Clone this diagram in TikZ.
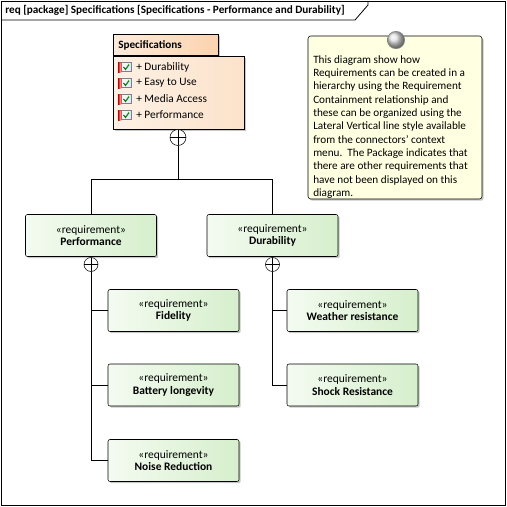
\documentclass[tikz,border=0pt]{standalone}
\usepackage{fontspec}
\setmainfont{Carlito}
\usetikzlibrary{shadows}
\definecolor{reqL}{HTML}{F4FBF1}
\definecolor{reqR}{HTML}{D6EFCC}
\definecolor{pkgL}{HTML}{FEF1E5}
\definecolor{pkgR}{HTML}{FCE2CA}
\definecolor{tabL}{HTML}{FEEBDB}
\definecolor{tabR}{HTML}{FBD3AE}
\definecolor{noteY}{HTML}{FFFFE1}
\begin{document}
\begin{tikzpicture}[x=0.75pt,y=-0.75pt,
  font=\fontsize{8.4}{9}\selectfont,
  shad/.style={drop shadow={shadow xshift=1.3pt, shadow yshift=-1.3pt, opacity=0.22, fill=black}},
  req/.style={draw, rounded corners=1.5pt, minimum width=98.25pt, minimum height=31.5pt,
    left color=reqL, right color=reqR, align=center, inner sep=0pt, shad,
    font=\fontsize{8.6}{9.2}\selectfont},
  cplus/.style={circle, draw, fill=white, minimum size=10.5pt, inner sep=0pt,
    path picture={\draw (path picture bounding box.north) -- (path picture bounding box.south)
      (path picture bounding box.west) -- (path picture bounding box.east);}},
  conn/.style={draw, line width=0.6pt},
  item/.style={anchor=west, inner sep=0pt, font=\fontsize{8.5}{9}\selectfont},
  chk/.pic={
    \fill[left color=red!75!black, right color=red!35] (0,-5) rectangle (2.5,5);
    \draw[gray, left color=white, right color=blue!12] (3,-4.5) rectangle (13,4.5);
    \draw[green!50!black, line width=0.8pt] (5.5,0) -- (7.5,2.5) -- (11,-2.5);
  }]
\useasboundingbox (0,0) rectangle (507,507);
% frame
\draw[line width=0.6pt] (1,1) rectangle (505,505);
\draw[line width=0.6pt] (1,20) -- (355,20) -- (368,5) -- (368,1);
\node[anchor=west, inner sep=0pt, font=\fontsize{8.4}{9}\selectfont\bfseries] (title) at (5,10.5)
  {req [package] Specifications [Specifications - Performance and Durability]};

% package
\node[draw, anchor=north west, minimum width=98.25pt, minimum height=54.75pt, inner sep=0pt,
  left color=pkgL, right color=pkgR, shad] (pkg) at (113,56) {};
\node[draw, anchor=south west, minimum width=78.75pt, minimum height=15.75pt, inner sep=0pt,
  left color=tabL, right color=tabR, shad] (pkgtab) at (pkg.north west) {};
\node[draw, anchor=south west, minimum width=78.75pt, minimum height=15.75pt, inner sep=0pt,
  left color=tabL, right color=tabR] at (pkg.north west) {};
\node[draw, anchor=north west, minimum width=98.25pt, minimum height=54.75pt, inner sep=0pt,
  left color=pkgL, right color=pkgR] at (113,56) {};
\node[anchor=west, inner sep=0pt, font=\fontsize{8.4}{9}\selectfont\bfseries] (pkgname) at (118,45) {Specifications};
\pic at (118,67) {chk};
\pic at (118,83) {chk};
\pic at (118,99) {chk};
\pic at (118,115) {chk};
\node[item] (i1) at (136,67) {+ Durability};
\node[item] (i2) at (136,83) {+ Easy to Use};
\node[item] (i3) at (136,99) {+ Media Access};
\node[item] (i4) at (136,115) {+ Performance};
\node[cplus, minimum size=12pt] (pc) at (178,137.5) {};

% note
\node[draw, rounded corners=2pt, fill=noteY, minimum width=130.5pt, minimum height=122.25pt,
  inner sep=0pt, shad] (note) at (395,117.5) {};
\node[anchor=north west, inner sep=0pt, align=left, font=\fontsize{8.4}{10}\selectfont] (notetext) at (313,55)
  {This diagram show how\\
   Requirements can be created in a\\
   hierarchy using the Requirement\\
   Containment relationship and\\
   these can be organized using the\\
   Lateral Vertical line style available\\
   from the connectors' context\\
   menu.\ \ The Package indicates that\\
   there are other requirements that\\
   have not been displayed on this\\
   diagram.};
\node[circle, draw=gray, shading=ball, ball color=gray!25, minimum size=13pt, inner sep=0pt] (pin) at (396,40) {};

% requirements
\node[req] (perf) at (91,235.5) {«requirement»\\\textbf{Performance}};
\node[req] (dur) at (272.5,235.5) {«requirement»\\\textbf{Durability}};
\node[req] (fid) at (173.5,310.5) {«requirement»\\\textbf{Fidelity}};
\node[req] (bat) at (173.5,385) {«requirement»\\\textbf{Battery longevity}};
\node[req] (noise) at (173.5,460.5) {«requirement»\\\textbf{Noise Reduction}};
\node[req] (wea) at (352.5,310.5) {«requirement»\\\textbf{Weather resistance}};
\node[req] (shock) at (352.5,385) {«requirement»\\\textbf{Shock Resistance}};

\node[cplus] (perfc) at (91,264.5) {};
\node[cplus] (durc) at (272.5,264.5) {};

% connectors
\draw[conn] (perf.north) -- ++(0,-35) -| (pc.south);
\draw[conn] (dur.north) -- ++(0,-35) -| (pc.south);
\draw[conn] (perfc.south) |- (fid.west);
\draw[conn] (perfc.south) |- (bat.west);
\draw[conn] (perfc.south) |- (noise.west);
\draw[conn] (durc.south) |- (wea.west);
\draw[conn] (durc.south) |- (shock.west);
\end{tikzpicture}
\end{document}
